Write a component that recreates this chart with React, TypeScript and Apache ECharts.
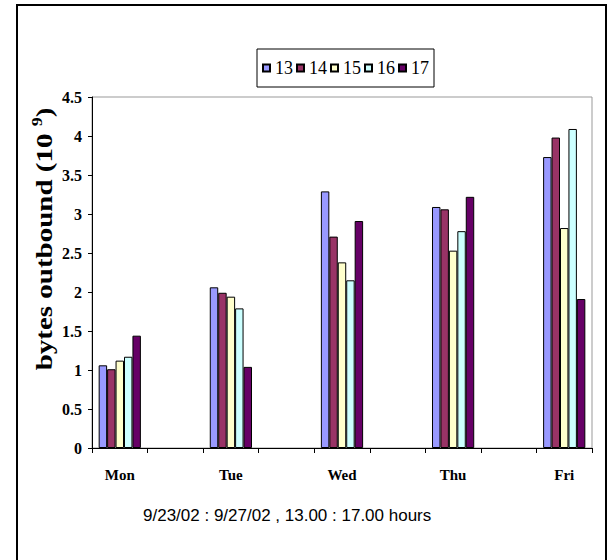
import React, { useEffect, useRef } from "react";
import * as echarts from "echarts";

const categories = ["Mon", "", "Tue", "", "Wed", "", "Thu", "", "Fri"];
const seriesNames = ["13", "14", "15", "16", "17"];
const s13 = [1.06, null, 2.06, null, 3.29, null, 3.09, null, 3.73];
const s14 = [1.01, null, 1.99, null, 2.71, null, 3.06, null, 3.98];
const s15 = [1.12, null, 1.94, null, 2.38, null, 2.53, null, 2.82];
const s16 = [1.17, null, 1.79, null, 2.15, null, 2.78, null, 4.09];
const s17 = [1.44, null, 1.04, null, 2.91, null, 3.22, null, 1.91];
const seriesValues = [s13, s14, s15, s16, s17];
const colors = ["#9999FF", "#993366", "#FFFFCC", "#CCFFFF", "#660066"];
const subtitle = "9/23/02 : 9/27/02 , 13.00 : 17.00 hours";
const yTitle = "bytes outbound (10 ";
const yTitleSup = "9";

const SERIF = "Liberation Serif";

export default function App() {
  const ref = useRef<HTMLDivElement>(null);
  useEffect(() => {
    document.body.style.margin = "0";
    const chart = echarts.init(ref.current!, null, { renderer: "svg" });
    chart.setOption({
      animation: false,
      backgroundColor: "#fff",
      textStyle: { fontFamily: SERIF },
      graphic: [
        {
          type: "rect",
          shape: { x: 17, y: 5, width: 589, height: 600 },
          style: { fill: "none", stroke: "#000", lineWidth: 2 },
          silent: true,
        },
        {
          type: "text",
          left: 143,
          top: 507,
          style: {
            text: subtitle,
            font: "17px 'Liberation Sans', Arial, sans-serif",
            fill: "#000",
          },
        },
        {
          type: "text",
          x: 43,
          y: 239,
          rotation: Math.PI / 2,
          scaleX: 1,
          scaleY: 0.78,
          style: {
            text: "{a|" + yTitle + "}{s|" + yTitleSup + "}{a|)}",
            align: "center",
            verticalAlign: "middle",
            rich: {
              a: {
                fontFamily: SERIF,
                fontWeight: "bold",
                fontSize: 29,
                fill: "#000",
                lineHeight: 34,
                verticalAlign: "bottom",
              },
              s: {
                fontFamily: SERIF,
                fontWeight: "bold",
                fontSize: 18,
                fill: "#000",
                lineHeight: 34,
                verticalAlign: "top",
              },
            },
          },
        },
      ],
      legend: {
        data: seriesNames,
        left: 257,
        top: 49,
        orient: "horizontal",
        itemWidth: 7,
        itemHeight: 7,
        itemGap: 3,
        icon: "rect",
        borderColor: "#000",
        borderWidth: 1,
        padding: [10, 5, 10, 5],
        textStyle: {
          fontFamily: SERIF,
          fontSize: 18,
          color: "#000",
        },
      },
      grid: {
        left: 92,
        top: 97,
        right: 21,
        bottom: 112,
        show: true,
        borderColor: "#999",
        borderWidth: 1,
        backgroundColor: "transparent",
      },
      xAxis: {
        type: "category",
        data: categories,
        axisLine: { lineStyle: { color: "#000", width: 1 } },
        axisTick: { show: true, length: 5, interval: 0, lineStyle: { color: "#000" } },
        axisLabel: {
          interval: 0,
          margin: 19,
          color: "#000",
          fontFamily: SERIF,
          fontWeight: "bold",
          fontSize: 15,
        },
      },
      yAxis: {
        type: "value",
        min: 0,
        max: 4.5,
        interval: 0.5,
        splitLine: { show: false },
        axisLine: { show: true, lineStyle: { color: "#000", width: 1 } },
        axisTick: { show: true, length: 4, lineStyle: { color: "#000" } },
        axisLabel: {
          margin: 10,
          color: "#000",
          fontFamily: SERIF,
          fontWeight: "bold",
          fontSize: 16,
        },
      },
      series: seriesValues.map((vals, i) => ({
        name: seriesNames[i],
        type: "bar",
        data: vals,
        barGap: "0%",
        barCategoryGap: "24%",
        itemStyle: { color: colors[i], borderColor: "#000", borderWidth: 1 },
      })),
    });
    return () => chart.dispose();
  }, []);
  return <div ref={ref} style={{ width: 613, height: 560 }} />;
}
